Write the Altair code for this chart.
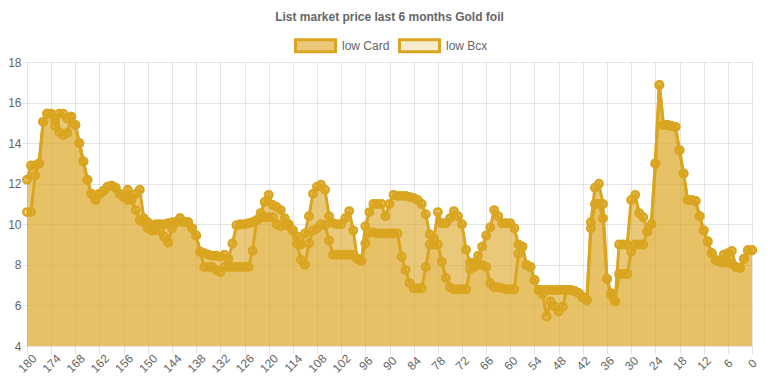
import altair as alt
import pandas as pd

# x categories: days before today (180 ... 0)
days = list(range(180, -1, -1))

low_card = [
    12.2, 12.9, 12.9, 13.0, 15.05, 15.45, 15.45, 15.1, 15.45, 15.45,   # 180-171
    15.2, 15.3, 14.9, 14.0, 13.1, 12.2, 11.5, 11.2, 11.5, 11.65,       # 170-161
    11.85, 11.9, 11.8, 11.5, 11.35, 11.7, 11.3, 11.5, 11.7, 10.3,      # 160-151
    10.1, 9.95, 10.0, 10.0, 10.0, 10.05, 10.1, 10.1, 10.3, 10.1,       # 150-141
    10.1, 9.8, 9.45, 8.65, 8.57, 8.5, 8.45, 8.45, 8.4, 8.5,            # 140-131
    8.3, 9.05, 9.95, 10.0, 10.0, 10.05, 10.1, 10.2, 10.55, 11.1,       # 130-121
    11.45, 10.95, 10.85, 10.7, 10.3, 10.0, 9.7, 9.4, 9.0, 9.55,        # 120-111
    10.4, 11.5, 11.85, 11.95, 11.7, 10.4, 10.05, 10.0, 10.0, 10.3,     # 110-101
    10.65, 9.7, 8.3, 8.2, 9.9, 10.6, 11.0, 11.0, 11.0, 10.4,           # 100-91
    11.0, 11.45, 11.4, 11.4, 11.4, 11.35, 11.3, 11.2, 11.0, 10.5,      # 90-81
    9.5, 9.3, 10.6, 10.05, 10.05, 10.3, 10.65, 10.4, 10.0, 8.75,       # 80-71
    8.1, 8.1, 8.45, 8.9, 9.45, 9.85, 10.7, 10.4, 10.05, 10.05,         # 70-61
    10.05, 9.8, 9.0, 8.9, 8.0, 7.9, 7.25, 6.76, 6.76, 6.76,            # 60-51
    6.76, 6.76, 6.76, 6.76, 6.76, 6.76, 6.7, 6.6, 6.4, 6.25,           # 50-41
    10.1, 11.8, 12.0, 11.0, 7.3, 6.6, 6.2, 9.0, 9.0, 9.0,              # 40-31
    11.2, 11.45, 10.55, 10.35, 9.65, 10.0, 13.0, 16.87, 14.9, 14.9,    # 30-21
    14.85, 14.8, 13.65, 12.5, 11.2, 11.2, 11.15, 10.4, 9.7, 9.15,      # 20-11
    8.57, 8.24, 8.16, 8.5, 8.57, 8.68, 7.9, 7.86, 8.3, 8.72,           # 10-1
    8.72,                                                              # 0
]

low_bcx = [
    10.6, 10.6, 12.4, 13.0, 15.05, 15.45, 15.45, 14.85, 14.55, 14.4,   # 180-171
    14.5, 15.3, 14.9, 14.0, 13.1, 12.2, 11.5, 11.2, 11.5, 11.65,       # 170-161
    11.85, 11.9, 11.8, 11.5, 11.35, 11.2, 11.2, 10.7, 10.2, 10.1,      # 160-151
    9.8, 9.7, 9.7, 9.7, 9.4, 9.1, 9.8, 10.1, 10.3, 10.1,               # 150-141
    10.1, 9.8, 9.45, 8.65, 7.9, 7.9, 7.9, 7.75, 7.65, 7.9,             # 140-131
    7.9, 7.9, 7.9, 7.9, 7.9, 7.9, 8.7, 10.2, 10.35, 10.35,             # 130-121
    10.35, 10.35, 10.0, 9.9, 10.0, 9.9, 9.7, 9.05, 8.25, 8.0,          # 120-111
    9.05, 9.7, 9.8, 10.0, 9.95, 9.2, 8.5, 8.5, 8.5, 8.5,               # 110-101
    8.5, 8.5, 8.3, 8.2, 9.05, 9.6, 9.6, 9.55, 9.55, 9.55,              # 100-91
    9.55, 9.55, 9.55, 8.4, 7.75, 7.1, 6.85, 6.85, 6.85, 7.9,           # 90-81
    9.0, 9.0, 9.0, 8.15, 7.35, 6.9, 6.8, 6.8, 6.8, 6.8,                # 80-71
    7.8, 7.9, 8.0, 8.0, 7.9, 7.1, 6.9, 6.9, 6.85, 6.8,                 # 70-61
    6.8, 6.8, 8.55, 8.9, 8.0, 7.9, 7.25, 6.76, 6.55, 5.45,             # 60-51
    6.2, 5.95, 5.7, 5.95, 6.76, 6.76, 6.7, 6.6, 6.4, 6.25,             # 50-41
    9.8, 11.0, 11.0, 10.3, 7.3, 6.5, 6.2, 7.55, 7.55, 7.55,            # 40-31
    8.65, 9.0, 9.0, 9.0, 9.65, 10.0, 13.0, 16.87, 14.9, 14.9,          # 30-21
    14.85, 14.8, 13.65, 12.5, 11.2, 11.2, 11.15, 10.4, 9.7, 9.15,      # 20-11
    8.57, 8.24, 8.16, 8.12, 8.12, 8.07, 7.9, 7.86, 8.3, 8.72,          # 10-1
    8.72,                                                              # 0
]

series_names = ["low Card", "low Bcx"]
x_tick_values = list(range(0, 181, 6))
y_tick_values = list(range(4, 19, 2))

line_color = "#DAA520"
fill_colors = ["rgba(218,165,32,0.6)", "rgba(218,165,32,0.22)"]
grid_color = "rgba(0,0,0,0.1)"
text_color = "#666666"
font = "Liberation Sans, Arial, Helvetica, sans-serif"

assert len(low_card) == len(days) == len(low_bcx)

df = pd.DataFrame({
    "day": days + days,
    "series": [series_names[0]] * len(days) + [series_names[1]] * len(days),
    "price": low_card + low_bcx,
})

x_enc = alt.X(
    "day:Q",
    scale=alt.Scale(domain=[180, 0], nice=False, zero=False),
    axis=alt.Axis(
        values=x_tick_values, title=None, labelAngle=-45, labelAlign="center",
        labelBaseline="middle", labelColor=text_color, labelFontSize=12,
        labelFont=font, gridColor=grid_color, tickColor=grid_color,
        tickSize=8, domain=False, labelPadding=9, labelOverlap=False,
        labelFlush=False,
    ),
)
y_enc = alt.Y(
    "price:Q",
    stack=None,
    scale=alt.Scale(domain=[4, 18], nice=False, zero=False),
    axis=alt.Axis(
        values=y_tick_values, title=None, labelColor=text_color,
        labelFontSize=12, labelFont=font, gridColor=grid_color,
        tickColor=grid_color, tickSize=5, domain=False, labelPadding=1,
    ),
)
fill_scale = alt.Scale(domain=series_names, range=fill_colors)

base = alt.Chart(df)

area = base.mark_area(opacity=1, interpolate="linear").encode(
    x=x_enc,
    y=y_enc,
    fill=alt.Fill(
        "series:N", scale=fill_scale, sort=series_names,
        legend=alt.Legend(
            title=None, orient="none", direction="horizontal",
            legendX=267, legendY=-38, padding=0,
            symbolType="M-1,-0.3H1V0.3H-1Z", symbolSize=1600,
            symbolStrokeColor=line_color, symbolStrokeWidth=3,
            symbolOpacity=1, labelColor=text_color, labelFontSize=12,
            labelFont=font, columnPadding=3, labelOffset=5,
        ),
    ),
)

line = base.mark_line(color=line_color, strokeWidth=3, interpolate="linear").encode(
    x=x_enc, y=y_enc, detail="series:N",
)

points = base.mark_circle(size=55, stroke=line_color, strokeWidth=2.5, opacity=1).encode(
    x=x_enc, y=y_enc,
    fill=alt.Fill("series:N", scale=fill_scale, legend=None),
)

chart = alt.layer(area, line, points).properties(
    width=725,
    height=284,
    autosize=alt.AutoSizeParams(type="none"),
    padding={"left": 19, "top": 54, "right": 8, "bottom": 38},
    title=alt.TitleParams(
        "List market price last 6 months Gold foil", fontSize=12,
        fontWeight="bold", color=text_color, font=font, anchor="middle",
        offset=0,
    ),
).configure_view(stroke=None)

chart.save("out.html", embed_options={"renderer": "svg", "actions": False})
